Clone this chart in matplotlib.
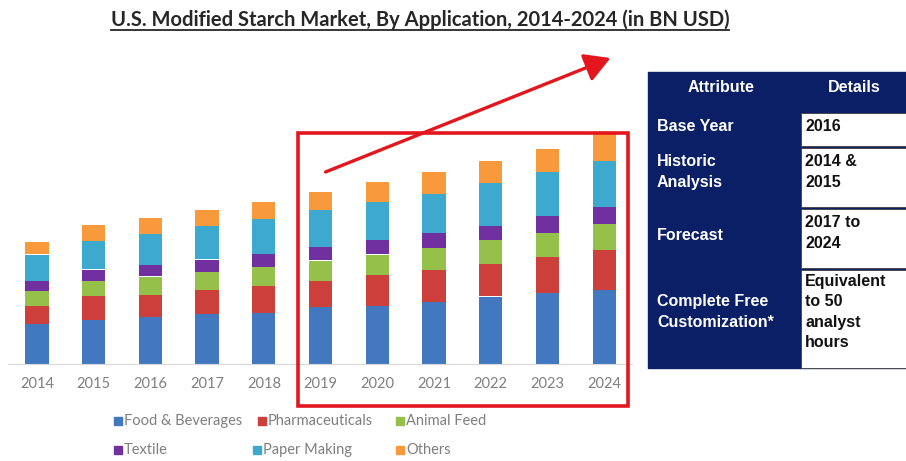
import matplotlib.pyplot as plt
import numpy as np
from matplotlib.patches import Rectangle, FancyArrowPatch

# Market size by application (BN USD, stacked)
years = ["2014", "2015", "2016", "2017", "2018", "2019",
         "2020", "2021", "2022", "2023", "2024"]
segments = ["Food & Beverages", "Pharmaceuticals", "Animal Feed",
            "Textile", "Paper Making", "Others"]
food_bev = [0.81, 0.89, 0.95, 1.00, 1.03, 1.15, 1.17, 1.25, 1.35, 1.43, 1.49]
pharma = [0.36, 0.47, 0.43, 0.49, 0.53, 0.51, 0.61, 0.63, 0.65, 0.71, 0.79]
animal_feed = [0.30, 0.30, 0.37, 0.35, 0.37, 0.41, 0.41, 0.43, 0.47, 0.48, 0.51]
textile = [0.19, 0.23, 0.23, 0.25, 0.27, 0.26, 0.29, 0.30, 0.29, 0.33, 0.35]
paper = [0.53, 0.57, 0.61, 0.67, 0.69, 0.74, 0.75, 0.79, 0.85, 0.88, 0.91]
others = [0.25, 0.31, 0.32, 0.32, 0.35, 0.36, 0.40, 0.43, 0.45, 0.47, 0.55]
series = [food_bev, pharma, animal_feed, textile, paper, others]
colors = ["#4178c0", "#cc3f3a", "#95c04a", "#7030a0", "#3ea9cf", "#f89a3c"]

# Summary table
table_header = ["Attribute", "Details"]
table_rows = [
    ("Base Year", "2016"),
    ("Historic\nAnalysis", "2014 &\n2015"),
    ("Forecast", "2017 to\n2024"),
    ("Complete Free\nCustomization*", "Equivalent\nto 50\nanalyst\nhours"),
]

NAVY = "#0b1f66"
HIGHLIGHT = "#e3161d"
W, H = 906, 461

fig = plt.figure(figsize=(W / 100, H / 100), dpi=100)

# bar chart
ax = fig.add_axes([8 / W, (H - 364) / H, 624 / W, 234 / H])
x = np.arange(len(years))
bottom = np.zeros(len(years))
for vals, name, col in zip(series, segments, colors):
    ax.bar(x, vals, 0.41, bottom=bottom, color=col, label=name, zorder=2)
    bottom += np.array(vals)
ax.set_xlim(-0.51, 10.49)
ax.set_ylim(0, 4.68)
ax.set_xticks(x)
ax.set_xticklabels(years, fontsize=10.5, color="#7f7f7f", family="Lato")
ax.tick_params(axis="x", length=0, pad=9)
ax.set_yticks([])
for side in ["top", "right", "left"]:
    ax.spines[side].set_visible(False)
ax.spines["bottom"].set_color("#d9d9d9")

# overlay in pixel units for title, callouts, legend and table
ov = fig.add_axes([0, 0, 1, 1], zorder=5)
ov.set_xlim(0, W)
ov.set_ylim(H, 0)
ov.axis("off")
ov.patch.set_alpha(0)

title = ov.text(420, 20, "U.S. Modified Starch Market, By Application, 2014-2024 (in BN USD)",
                ha="center", va="center", fontsize=14.5, fontweight="bold",
                color="#262626", family="Lato")
fig.canvas.draw()
bb = title.get_window_extent().transformed(ov.transData.inverted())
ov.plot([bb.x0, bb.x1], [30, 30], color="#262626", lw=1.3)

# highlight box + trend arrow
ov.add_patch(Rectangle((298, 133), 330, 273, fill=False, ec=HIGHLIGHT, lw=2.6))
ov.add_patch(FancyArrowPatch((323, 173), (613, 57), arrowstyle="-|>,head_length=7,head_width=4",
                             color=HIGHLIGHT, lw=2.4, mutation_scale=2.2))

# legend, two rows of three
legend_pos = [(118, 421), (262, 421), (400, 421), (118, 450), (257, 450), (400, 450)]
for (lx, ly), name, col in zip(legend_pos, segments, colors):
    ov.add_patch(Rectangle((lx - 4, ly - 4), 8, 8, color=col))
    ov.text(lx + 6, ly, name, ha="left", va="center", fontsize=10.5,
            color="#7f7f7f", family="Lato")

# table
tx0, tx1, tx2 = 648, 800, 912
row_edges = [72, 111, 146, 207, 268, 368]
ov.add_patch(Rectangle((tx0, row_edges[0]), tx2 - tx0, row_edges[-1] - row_edges[0],
                       color=NAVY, zorder=1))
ov.text((tx0 + tx1) / 2 - 3, 88, table_header[0], ha="center", va="center",
        color="white", fontsize=11.5, fontweight="bold", family="Liberation Sans")
ov.text(854, 88, table_header[1], ha="center", va="center",
        color="white", fontsize=11.5, fontweight="bold", family="Liberation Sans")
for i, (attr, detail) in enumerate(table_rows):
    top, bot = row_edges[i + 1], row_edges[i + 2]
    ov.add_patch(Rectangle((tx1 + 1, top + 2), tx2 - tx1, bot - top - 2.5,
                           color="white", ec="#404040", lw=0.6, zorder=2))
    n_attr = attr.count("\n") + 1
    n_det = detail.count("\n") + 1
    if n_det > 2:
        y_attr = y_det = (top + bot) / 2 - 6
    else:
        y_attr = top + 4 + 11 * max(n_attr, n_det) + (2 if n_attr == 1 and n_det == 2 else 0)
        y_det = top + 4 + 11 * n_det
    ov.text(657, y_attr, attr, ha="left", va="center", color="white", fontsize=11.5,
            fontweight="bold", family="Liberation Sans", linespacing=1.45, zorder=3)
    ov.text(805, y_det, detail, ha="left", va="center", color="#111111",
            fontsize=11.5, fontweight="bold", family="Liberation Sans",
            linespacing=1.45, zorder=3)

fig.savefig("out.png", dpi=100)
